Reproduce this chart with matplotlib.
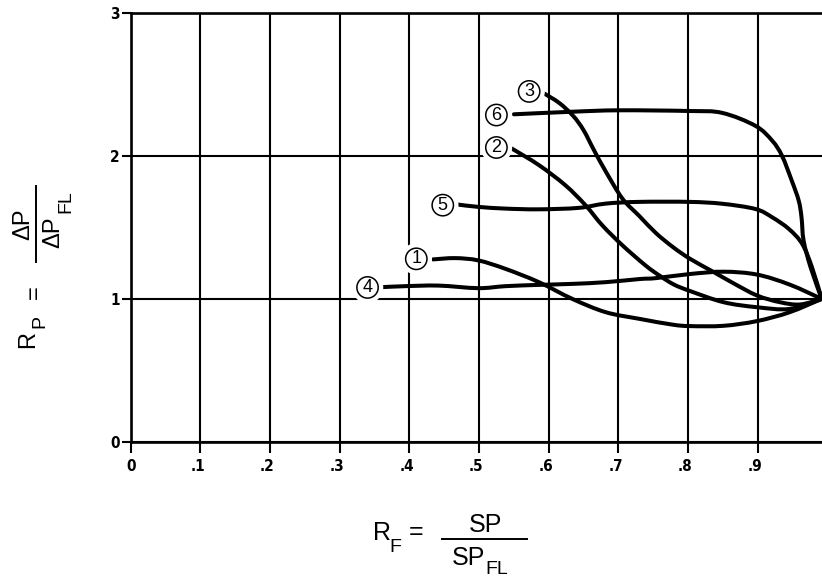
import matplotlib
matplotlib.use("Agg")
import matplotlib.pyplot as plt
from matplotlib import font_manager
from matplotlib.lines import Line2D
from matplotlib.path import Path
from matplotlib.patches import PathPatch
import matplotlib.transforms as mtransforms

# ---------------- data ----------------
c1_x = [0.434, 0.466, 0.499, 0.538, 0.586, 0.634, 0.682, 0.731, 0.778, 0.803, 0.851, 0.899, 0.946, 0.992]
c1_y = [1.276, 1.285, 1.269, 1.210, 1.117, 1.000, 0.907, 0.860, 0.820, 0.810, 0.812, 0.845, 0.907, 1.000]

c2_x = [0.547, 0.586, 0.624, 0.653, 0.677, 0.706, 0.739, 0.760, 0.780, 0.803, 0.851, 0.899, 0.946, 0.992]
c2_y = [2.051, 1.935, 1.794, 1.654, 1.514, 1.374, 1.234, 1.160, 1.100, 1.055, 0.977, 0.942, 0.930, 1.000]

c3_x = [0.593, 0.615, 0.635, 0.650, 0.665, 0.682, 0.706, 0.730, 0.754, 0.779, 0.803, 0.836, 0.865, 0.899, 0.932, 0.961, 0.992]
c3_y = [2.437, 2.370, 2.280, 2.180, 2.040, 1.890, 1.700, 1.580, 1.460, 1.360, 1.280, 1.190, 1.110, 1.024, 0.977, 0.961, 1.000]

c4_x = [0.360, 0.394, 0.442, 0.499, 0.538, 0.586, 0.634, 0.682, 0.731, 0.754, 0.803, 0.851, 0.899, 0.946, 0.992]
c4_y = [1.082, 1.089, 1.093, 1.075, 1.089, 1.098, 1.105, 1.117, 1.139, 1.145, 1.174, 1.190, 1.170, 1.100, 1.000]

c5_x = [0.470, 0.499, 0.538, 0.586, 0.643, 0.682, 0.730, 0.802, 0.849, 0.897, 0.921, 0.945, 0.964, 0.978, 0.992]
c5_y = [1.659, 1.643, 1.631, 1.626, 1.636, 1.666, 1.678, 1.678, 1.665, 1.628, 1.570, 1.488, 1.384, 1.221, 1.000]

c6_x = [0.550, 0.634, 0.701, 0.802, 0.849, 0.897, 0.921, 0.935, 0.949, 0.959, 0.963, 0.966, 0.976, 0.992]
c6_y = [2.290, 2.308, 2.318, 2.313, 2.300, 2.209, 2.105, 2.000, 1.826, 1.686, 1.570, 1.407, 1.221, 1.000]

curve_names = ["1", "2", "3", "4", "5", "6"]
curves_x = [c1_x, c2_x, c3_x, c4_x, c5_x, c6_x]
curves_y = [c1_y, c2_y, c3_y, c4_y, c5_y, c6_y]

x_ticks = [0.0, 0.1, 0.2, 0.3, 0.4, 0.5, 0.6, 0.7, 0.8, 0.9]
x_tick_labels = ["0", ".1", ".2", ".3", ".4", ".5", ".6", ".7", ".8", ".9"]
y_ticks = [0, 1, 2, 3]
y_tick_labels = ["0", "1", "2", "3"]

# label anchor points (circled numbers)
label_pos = {"1": (0.410, 1.280), "2": (0.525, 2.058), "3": (0.572, 2.450),
             "4": (0.340, 1.080), "5": (0.448, 1.655), "6": (0.525, 2.285)}

# ---------------- fonts ----------------
names = {f.name for f in font_manager.fontManager.ttflist}
main_font = "Liberation Sans" if "Liberation Sans" in names else "DejaVu Sans"
if "Liberation Sans Narrow" in names:
    tick_font = dict(family="Liberation Sans Narrow", weight="bold")
else:
    tick_font = dict(family="DejaVu Sans", weight="bold", stretch="condensed")

W, H = 822, 583
fig = plt.figure(figsize=(W / 100, H / 100), dpi=100)
ax = fig.add_axes([130.7 / W, 1 - 442 / H, 1 - 130.7 / W, (442 - 12.7) / H])
ax.set_xlim(0, 0.9924)
ax.set_ylim(0, 3)

# grid
ax.set_xticks(x_ticks)
ax.set_yticks(y_ticks)
ax.grid(True, color="black", lw=1.5)
ax.set_axisbelow(True)
for s in ["left", "bottom", "top"]:
    ax.spines[s].set_linewidth(1.9)
ax.spines["right"].set_visible(False)

ax.tick_params(axis="x", direction="out", length=8, width=1.5, pad=4.5)
ax.tick_params(axis="y", direction="out", length=6.5, width=1.5, pad=1.5)
ax.set_xticklabels(x_tick_labels, fontsize=11, **tick_font)
ax.set_yticklabels(y_tick_labels, fontsize=11, **tick_font)
shift = mtransforms.ScaledTranslation(-2 / 72, 0, fig.dpi_scale_trans)
for lbl in ax.get_xticklabels()[1:]:
    lbl.set_transform(lbl.get_transform() + shift)


def smooth_path(xs, ys):
    """Cubic Bezier path through the read points (Catmull-Rom control points)."""
    pts = list(zip(xs, ys))
    n = len(pts)
    verts = [pts[0]]
    codes = [Path.MOVETO]
    for i in range(n - 1):
        p0 = pts[i - 1] if i > 0 else pts[i]
        p1 = pts[i]
        p2 = pts[i + 1]
        p3 = pts[i + 2] if i + 2 < n else pts[i + 1]
        c1 = (p1[0] + (p2[0] - p0[0]) / 6, p1[1] + (p2[1] - p0[1]) / 6)
        c2 = (p2[0] - (p3[0] - p1[0]) / 6, p2[1] - (p3[1] - p1[1]) / 6)
        verts += [c1, c2, p2]
        codes += [Path.CURVE4] * 3
    return Path(verts, codes)


# curves
for cx, cy in zip(curves_x, curves_y):
    ax.add_patch(PathPatch(smooth_path(cx, cy), fill=False, ec="black", lw=2.9,
                           capstyle="round", joinstyle="round", zorder=3))

# circled labels
for name in curve_names:
    lx, ly = label_pos[name]
    ax.text(lx, ly, name, ha="center", va="center", fontsize=13, color="white",
            family=main_font, zorder=4,
            bbox=dict(boxstyle="circle,pad=0.4", fc="white", ec="none"))
    ax.text(lx, ly, name, ha="center", va="center", fontsize=13, color="black",
            family=main_font, zorder=5,
            bbox=dict(boxstyle="circle,pad=0.12", fc="white", ec="black", lw=1.1))

# ---------------- axis labels (built from pieces) ----------------
def ft(px, py, s, size, rot=0):
    fig.text(px / W, 1 - py / H, s, fontsize=size, family=main_font,
             ha="center", va="center", rotation=rot)

def fline(x0, y0, x1, y1):
    fig.add_artist(Line2D([x0 / W, x1 / W], [1 - y0 / H, 1 - y1 / H],
                          color="black", lw=1.4, transform=fig.transFigure))

# x label: R_F = SP / SP_FL
ft(382, 533, "R", 18)
ft(395, 548, "F", 14)
ft(416, 532, "=", 18)
fline(442, 539, 527, 539)
ft(485, 525, "SP", 18)
ft(468, 558, "SP", 18)
ft(497, 569, "FL", 14)

# y label (rotated): R_P = ΔP / ΔP_FL
ft(28, 339, "R", 17, 90)
ft(40, 321, "P", 14, 90)
ft(35, 292, "=", 17, 90)
fline(36, 186, 36, 262)
ft(23, 224, "ΔP", 17, 90)
ft(53, 232, "ΔP", 17, 90)
ft(66, 202, "FL", 14, 90)

fig.savefig("out.png", dpi=100)
